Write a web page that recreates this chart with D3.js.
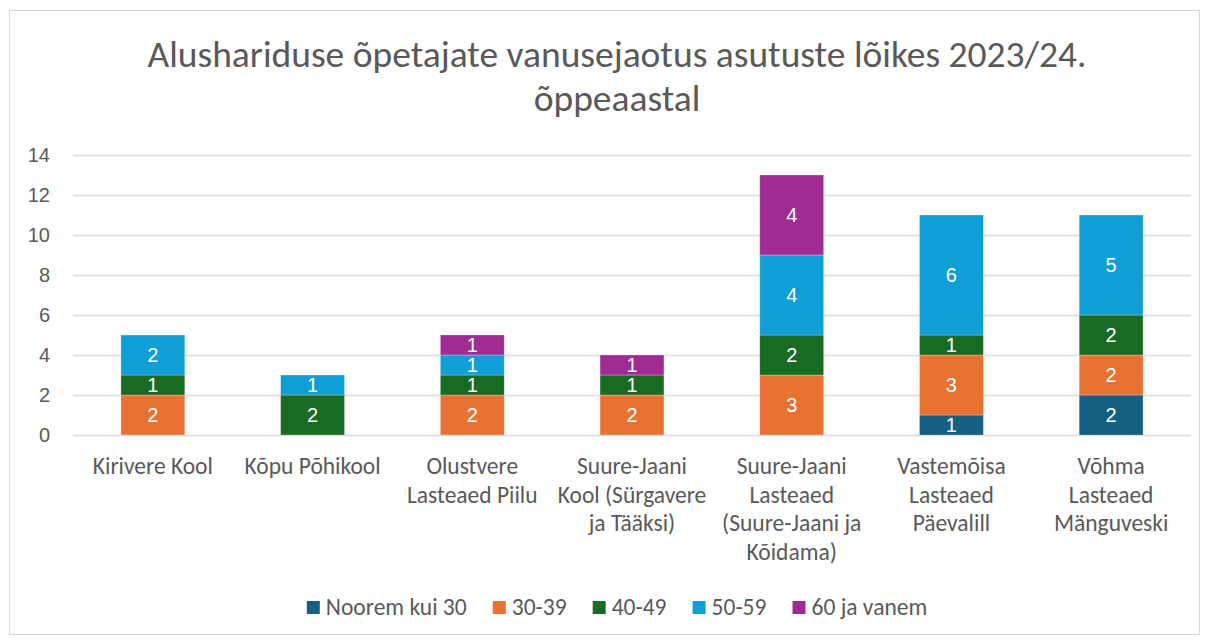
<!DOCTYPE html>
<html><head><meta charset="utf-8">
<script src="https://cdn.jsdelivr.net/npm/d3@7"></script>
<style>body{margin:0;background:#fff}svg{display:block}</style>
</head><body>
<svg id="chart" width="1208" height="640"></svg>
<script>
const title = ["Alushariduse õpetajate vanusejaotus asutuste lõikes 2023/24.", "õppeaastal"];
const categories = [
  ["Kirivere Kool"],
  ["Kõpu Põhikool"],
  ["Olustvere", "Lasteaed Piilu"],
  ["Suure-Jaani", "Kool (Sürgavere", "ja Tääksi)"],
  ["Suure-Jaani", "Lasteaed", "(Suure-Jaani ja", "Kõidama)"],
  ["Vastemõisa", "Lasteaed", "Päevalill"],
  ["Võhma", "Lasteaed", "Mänguveski"]
];
const seriesNames = ["Noorem kui 30", "30-39", "40-49", "50-59", "60 ja vanem"];
const seriesColors = ["#156082", "#E97132", "#196B24", "#0F9ED5", "#A02B93"];
const noorem = [0, 0, 0, 0, 0, 1, 2];
const v30_39 = [2, 0, 2, 2, 3, 3, 2];
const v40_49 = [1, 2, 1, 1, 2, 1, 2];
const v50_59 = [2, 1, 1, 0, 4, 6, 5];
const v60 = [0, 0, 1, 1, 4, 0, 0];
const yTicks = [0, 2, 4, 6, 8, 10, 12, 14];

const values = [noorem, v30_39, v40_49, v50_59, v60];
const rows = categories.map((c, i) => {
  const r = {key: i};
  seriesNames.forEach((s, j) => r[s] = values[j][i]);
  return r;
});

const svg = d3.select("#chart");
const catFont = "Carlito, Calibri, 'Liberation Sans Narrow', 'Open Sans', sans-serif";
const numFont = "'Liberation Sans', Arial, sans-serif";

svg.append("rect").attr("x", 9.5).attr("y", 10.5).attr("width", 1190).attr("height", 624)
  .attr("fill", "#fff").attr("stroke", "#d9d9d9").attr("stroke-width", 1);

const ml = 73, mr = 1191, mt = 155, mb = 435;
const x = d3.scaleBand().domain(d3.range(categories.length)).range([ml, mr]).paddingInner(0.6).paddingOuter(0.3);
const y = d3.scaleLinear().domain([0, 14]).range([mb, mt]);

// title
const tt = svg.append("text").attr("text-anchor", "middle").attr("fill", "#595959")
  .style("font-family", catFont).style("font-size", "37.5px");
title.forEach((t, i) => tt.append("tspan").attr("x", 617).attr("y", 67 + i * 44).text(t));

// grid
const yAxis = d3.axisLeft(y).tickValues(yTicks).tickSize(-(mr - ml)).tickPadding(23);
const gy = svg.append("g").attr("transform", `translate(${ml},0)`).call(yAxis);
gy.select(".domain").remove();
gy.selectAll(".tick line").attr("stroke", "#d9d9d9").attr("stroke-width", 1.3);
gy.selectAll(".tick text").attr("fill", "#595959").style("font-family", numFont).style("font-size", "20px");

// bars
const stack = d3.stack().keys(seriesNames)(rows);
const layers = svg.append("g").selectAll("g").data(stack).join("g")
  .attr("fill", (d, i) => seriesColors[i]);
layers.selectAll("rect").data(d => d.filter(p => p[1] - p[0] > 0)).join("rect")
  .attr("x", d => x(d.data.key)).attr("width", x.bandwidth())
  .attr("y", d => y(d[1])).attr("height", d => y(d[0]) - y(d[1]))
  .attr("stroke", "rgba(255,255,255,0.35)").attr("stroke-width", 0.8);
layers.selectAll("text").data(d => d.filter(p => p[1] - p[0] > 0)).join("text")
  .attr("x", d => x(d.data.key) + x.bandwidth() / 2)
  .attr("y", d => (y(d[0]) + y(d[1])) / 2)
  .attr("dy", "0.36em").attr("text-anchor", "middle").attr("fill", "#fff")
  .style("font-family", numFont).style("font-size", "20px")
  .text(d => d[1] - d[0]);

// x axis labels
const gx = svg.append("g");
categories.forEach((lines, i) => {
  const t = gx.append("text").attr("text-anchor", "middle").attr("fill", "#595959")
    .style("font-family", catFont).style("font-size", "23.5px");
  lines.forEach((l, k) => t.append("tspan").attr("x", x(i) + x.bandwidth() / 2).attr("y", 474 + k * 28.7).text(l));
});

// legend
const lg = svg.append("g");
const leg = lg.selectAll("g").data(seriesNames).join("g");
leg.append("rect").attr("y", 601).attr("width", 13).attr("height", 13).attr("fill", (d, i) => seriesColors[i]);
leg.append("text").attr("x", 19).attr("y", 615).attr("fill", "#595959")
  .style("font-family", catFont).style("font-size", "23.5px").text(d => d);
let widths = [];
leg.each(function() { widths.push(this.getBBox().width); });
const gap = 26;
const total = d3.sum(widths) + gap * (widths.length - 1);
let cx = 617 - total / 2;
leg.attr("transform", (d, i) => { const tx = cx; cx += widths[i] + gap; return `translate(${tx},0)`; });
</script>
</body></html>
